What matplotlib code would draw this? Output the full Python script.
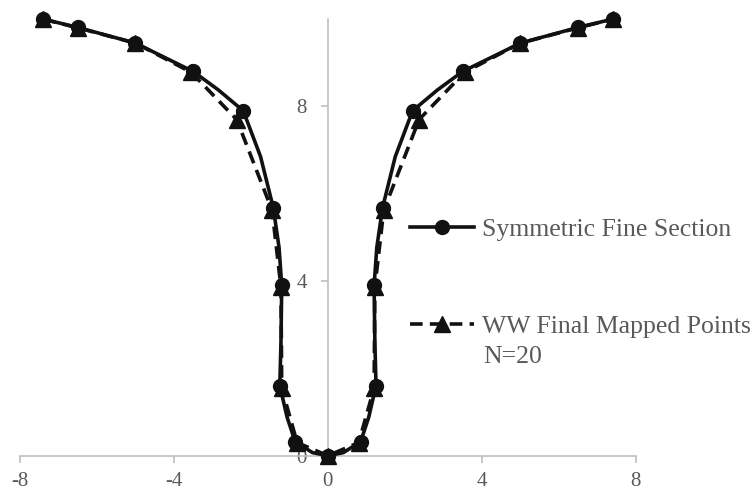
import matplotlib.pyplot as plt

# Symmetric fine section (left half, mirrored below)
fine_x_left = [-7.4, -6.5, -5.0, -3.5, -2.85, -2.2, -1.75, -1.42, -1.27, -1.2, -1.22, -1.25, -1.06, -0.85, -0.4, 0.0]
fine_y_left = [10.0, 9.81, 9.45, 8.8, 8.38, 7.9, 6.85, 5.68, 4.77, 3.9, 2.6, 1.6, 0.88, 0.32, 0.07, 0.0]
fine_marker_idx = [0, 1, 2, 3, 5, 7, 9, 11, 13, 15]

# WW final mapped points
ww_x_left = [-7.4, -6.5, -5.0, -3.55, -2.37, -1.45, -1.22, -1.2, -0.8, 0.0]
ww_y_left = [10.0, 9.8, 9.45, 8.78, 7.7, 5.62, 3.86, 1.55, 0.3, 0.0]

x_ticks = [-8, -4, 0, 4, 8]
y_ticks = [0, 4, 8]

fine_x = fine_x_left + [-v for v in fine_x_left[-2::-1]]
fine_y = fine_y_left + fine_y_left[-2::-1]
n = len(fine_x_left)
fine_marks = fine_marker_idx + [2 * (n - 1) - i for i in fine_marker_idx[-2::-1]]
ww_x = ww_x_left + [-v for v in ww_x_left[-2::-1]]
ww_y = ww_y_left + ww_y_left[-2::-1]

plt.rcParams['font.family'] = ['Liberation Serif', 'DejaVu Serif']
plt.rcParams['axes.unicode_minus'] = False

fig = plt.figure(figsize=(7.56, 4.95), dpi=100)
ax = fig.add_axes([0.0265, 0.0794, 0.8145, 0.882])

grey = '#bfbfbf'
txt = '#595959'

l1, = ax.plot(fine_x, fine_y, color='#111111', linewidth=2.6, marker='o', markersize=10,
              markevery=fine_marks, clip_on=False, zorder=3)
l2, = ax.plot(ww_x, ww_y, color='#111111', linewidth=2.6, linestyle=(0, (3.5, 2)), marker='^',
              markersize=11, clip_on=False, zorder=4)

ax.set_xlim(-8, 8)
ax.set_ylim(0, 10)
ax.set_xticks(x_ticks)
ax.set_yticks(y_ticks)

ax.spines['left'].set_position(('data', 0))
ax.spines['bottom'].set_position(('data', 0))
ax.spines['top'].set_visible(False)
ax.spines['right'].set_visible(False)
for s in ['left', 'bottom']:
    ax.spines[s].set_color(grey)
    ax.spines[s].set_linewidth(1.2)

ax.tick_params(axis='both', colors=grey, labelcolor=txt, labelsize=15, length=5, width=1.2)
ax.tick_params(axis='x', pad=7)
ax.tick_params(axis='y', pad=10)

leg_opts = dict(loc='center left', bbox_transform=fig.transFigure, frameon=False, fontsize=18.5,
                handlelength=2.5, handletextpad=0.3, borderaxespad=0, borderpad=0)
leg1 = ax.legend([l1], ['Symmetric Fine Section'], bbox_to_anchor=(0.5423, 0.5354), **leg_opts)
ax.add_artist(leg1)
leg2 = ax.legend([l2], ['WW Final Mapped Points'], bbox_to_anchor=(0.5423, 0.3414), **leg_opts)
for lg in (leg1, leg2):
    for t in lg.get_texts():
        t.set_color(txt)
fig.text(0.639, 0.279, 'N=20', fontsize=18.5, color=txt, ha='left', va='center')

fig.savefig('out.png', dpi=100)
